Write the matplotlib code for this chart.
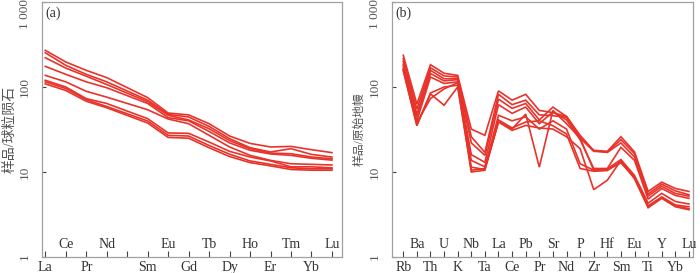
import matplotlib
matplotlib.use("Agg")
import matplotlib.pyplot as plt
import matplotlib.transforms as mtransforms
from matplotlib.ticker import FixedLocator, NullLocator

# ---------------- data ----------------
ree_labels = ["La", "Ce", "Pr", "Nd", "", "Sm", "Eu", "Gd", "Tb", "Dy", "Ho", "Er", "Tm", "Yb", "Lu"]
ree_samples = [
    [270, 197, 157, 129, 75, 49.4, 47.0, 37.0, 26.5, 21.7, 19.7, 20.0, 18.3, 16.9],
    [253, 180, 141, 115, 70, 47.7, 44.4, 34.4, 24.7, 19.3, 17.2, 18.8, 16.1, 15.0],
    [221, 167, 134, 107, 67, 46.4, 41.0, 32.3, 23.4, 18.8, 16.7, 16.4, 15.0, 14.3],
    [175, 141, 115, 98, 64, 43.6, 40.0, 30.0, 22.0, 18.0, 16.3, 15.7, 14.5, 13.8],
    [137, 115, 89, 76, 54, 42.0, 37.0, 27.0, 19.7, 15.7, 13.7, 12.5, 12.3, 12.1],
    [120, 100, 73, 64, 42.4, 28.8, 28.5, 22.5, 17.5, 15.0, 13.5, 11.5, 11.5, 11.2],
    [115, 96, 71, 59, 39.8, 27.0, 26.5, 20.5, 16.2, 13.5, 12.3, 11.2, 10.9, 10.9],
    [109, 91, 68, 57, 37.7, 25.5, 25.0, 19.3, 15.2, 12.9, 11.8, 10.7, 10.5, 10.5],
]

spider_labels = ["Rb", "Ba", "Th", "U", "K", "Nb", "Ta", "La", "Ce", "Pb", "Pr",
                 "Sr", "Nd", "P", "Zr", "Hf", "Sm", "Eu", "Ti", "Y", "Yb", "Lu"]
spider_samples = [
    [236, 63, 183, 145, 137, 32, 27, 90, 70, 82, 53, 50, 45, 26, 18, 17.5, 26, 17.2, 5.9, 7.6, 6.4, 5.9],
    [215, 55, 168, 135, 131, 26, 17, 82, 62, 70, 47, 46, 44, 25, 17.5, 17.2, 24, 16.4, 5.5, 7.2, 6.0, 5.4],
    [200, 48, 157, 125, 125, 22, 15.7, 72, 56, 64, 41, 58, 45, 27, 17.8, 17.0, 22, 15.0, 5.2, 6.8, 5.6, 5.2],
    [185, 45, 144, 118, 122, 16, 13, 62, 49, 58, 37, 51, 41, 24, 11, 11, 19.5, 13.7, 4.8, 6.4, 5.3, 4.9],
    [175, 40, 131, 110, 115, 13.7, 11.5, 46.5, 40, 44.5, 32, 40, 32, 12.5, 10.5, 10.9, 14, 9.1, 4.3, 5.6, 4.5, 4.2],
    [165, 38, 73, 95, 112, 11.4, 10.7, 41, 33, 38.7, 40, 35, 28, 11, 10.2, 10.4, 13.3, 8.7, 4.0, 5.1, 4.1, 3.9],
    [160, 36, 83, 61, 100, 10.5, 11, 39, 32, 48, 11.4, 53, 37, 25, 10.5, 10.6, 12.8, 8.5, 3.9, 5.0, 4.0, 3.7],
    [155, 35, 85, 100, 105, 10, 10.5, 38.7, 30.9, 35.3, 33, 32, 26, 18.8, 6.2, 8.0, 13.7, 8.3, 3.8, 4.9, 3.9, 3.6],
]

y_ticks = [1, 10, 100, 1000]
y_ticklabels = ["1", "10", "100", "1 000"]

# ---------------- style ----------------
RED = "#E8332B"
SPINE = "#a0a0a0"
TXT = "#333333"
plt.rcParams["font.family"] = ["Liberation Serif", "Noto Sans CJK SC"]

fig = plt.figure(figsize=(7.0, 2.73), dpi=100)
H = 273.0
W = 700.0
bottom = 1 - 257 / H
top = 1 - 2 / H
axL = fig.add_axes([42 / W, bottom, (342 - 42) / W, top - bottom])
axR = fig.add_axes([391.7 / W, bottom, (693.3 - 391.7) / W, top - bottom])


def style(ax, labels, xlim, ylabel, panel, ylabel_size):
    ax.set_yscale("log")
    ax.set_ylim(1, 1000)
    ax.set_xlim(*xlim)
    for s in ax.spines.values():
        s.set_color(SPINE)
        s.set_linewidth(0.9)
    ax.yaxis.set_major_locator(FixedLocator(y_ticks))
    ax.yaxis.set_minor_locator(NullLocator())
    ax.set_yticklabels(y_ticklabels, rotation=90, va="center", fontsize=9.5, color="#555555")
    ax.tick_params(axis="y", direction="in", length=3, width=0.8, color="#444444", pad=8)
    # top label: keep inside the figure (shifted down like the reference)
    lab = ax.get_yticklabels()[-1]
    lab.set_va("top")
    lab.set_transform(lab.get_transform() +
                      mtransforms.ScaledTranslation(0, 2 / 72, fig.dpi_scale_trans))
    pos = list(range(len(labels)))
    ax.set_xticks(pos)
    # alternate rows among the non-empty labels: lower, upper, lower, ...
    named = [i for i, l in enumerate(labels) if l]
    lower = set(named[0::2])
    upper = set(named[1::2])
    ax.set_xticklabels([l if i in lower else "" for i, l in enumerate(labels)],
                       fontsize=10, color=TXT)
    ax.tick_params(axis="x", direction="in", length=4, width=0.8, color="#444444", pad=3)
    trans = mtransforms.blended_transform_factory(ax.transData, ax.transAxes)
    for i in sorted(upper):
        ax.text(i, 0.048, labels[i], transform=trans, ha="center", va="center",
                fontsize=10, color=TXT)
    ax.text(0.012, 0.955, panel, transform=ax.transAxes, fontsize=10, color=TXT,
            ha="left", va="center")
    ax.set_ylabel(ylabel, fontsize=ylabel_size, color="#555555", labelpad=2)


# left: REE
ree_x = [i for i, l in enumerate(ree_labels) if l]
for s in ree_samples:
    axL.plot(ree_x, s, color=RED, lw=1.2, solid_joinstyle="miter")
style(axL, ree_labels, (-0.16, 14.49), "样品/球粒陨石", "(a)", 10)

# right: spider
sp_x = list(range(len(spider_labels)))
for s in spider_samples:
    axR.plot(sp_x, s, color=RED, lw=1.2, solid_joinstyle="miter")
style(axR, spider_labels, (-0.85, 21.32), "样品/原始地幔", "(b)", 8.5)

fig.savefig("out.png", dpi=100)
